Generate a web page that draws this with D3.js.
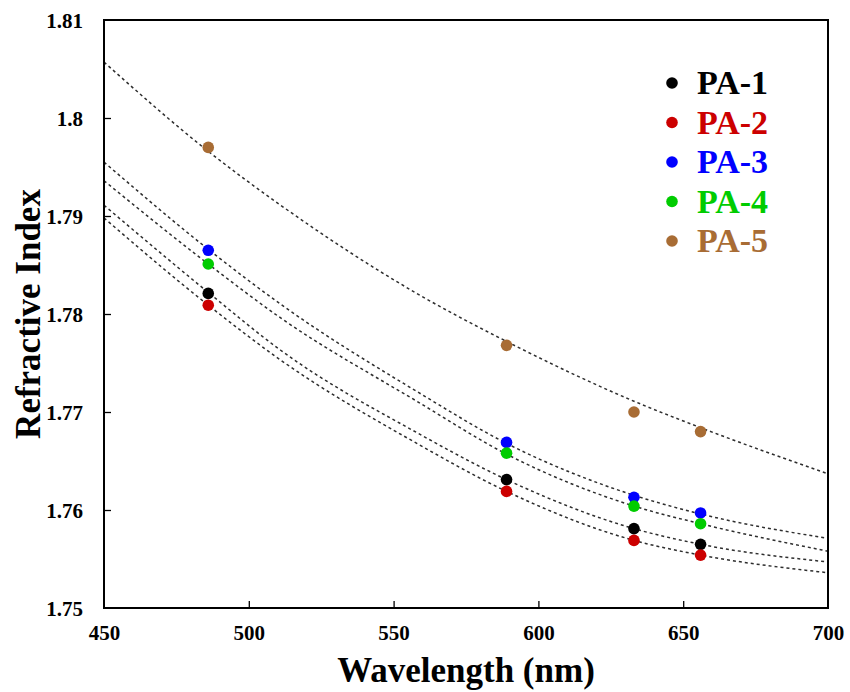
<!DOCTYPE html>
<html>
<head>
<meta charset="utf-8">
<script src="https://cdn.jsdelivr.net/npm/d3@7"></script>
<style>
  body { margin: 0; background: #fff; }
  text { font-family: "Liberation Serif", "Times New Roman", serif; font-weight: bold; }
</style>
</head>
<body>
<script>
// ---- data ----
const seriesNames = ["PA-1", "PA-2", "PA-3", "PA-4", "PA-5"];
const seriesColors = ["#000000", "#cc0000", "#0000ff", "#00cc00", "#a86c34"];

// measured points
const wavelengths = [486, 589, 633, 656];
const pa1 = [1.7821, 1.7631, 1.7581, 1.7565];
const pa2 = [1.7809, 1.7619, 1.7569, 1.7554];
const pa3 = [1.7865, 1.7669, 1.7613, 1.7597];
const pa4 = [1.7851, 1.7658, 1.7604, 1.7586];
const pa5 = [1.7970, 1.7768, 1.7700, 1.7680];

// dashed fit curves
const fitWl = [450, 486, 511, 558, 589, 633, 656, 700];
const fit1 = [1.7911, 1.7822, 1.7763, 1.7679, 1.7631, 1.7581, 1.7565, 1.7547];
const fit2 = [1.7898, 1.7809, 1.7753, 1.7668, 1.7619, 1.7569, 1.7554, 1.7536];
const fit3 = [1.7955, 1.7866, 1.7810, 1.7721, 1.7668, 1.7615, 1.7596, 1.7571];
const fit4 = [1.7936, 1.7851, 1.7796, 1.7711, 1.7657, 1.7604, 1.7586, 1.7558];
const fit5 = [1.8057, 1.7966, 1.7911, 1.7821, 1.7772, 1.7711, 1.7684, 1.7637];

const xTicks = [450, 500, 550, 600, 650, 700];
const yTicks = [1.75, 1.76, 1.77, 1.78, 1.79, 1.8, 1.81];

const points = [pa1, pa2, pa3, pa4, pa5];
const fits = [fit1, fit2, fit3, fit4, fit5];

// ---- layout ----
const W = 850, H = 692;
const x = d3.scaleLinear().domain([450, 700]).range([104, 828]);
const y = d3.scaleLinear().domain([1.75, 1.81]).range([608, 20]);

const svg = d3.select("body").append("svg")
    .attr("width", W)
    .attr("height", H);

svg.append("rect").attr("width", W).attr("height", H).attr("fill", "#fff");

// fit curves
const line = d3.line()
    .x(d => x(d[0]))
    .y(d => y(d[1]))
    .curve(d3.curveMonotoneX);

fits.forEach(f => {
    svg.append("path")
        .datum(fitWl.map((w, i) => [w, f[i]]))
        .attr("d", line)
        .attr("fill", "none")
        .attr("stroke", "#2e2e2e")
        .attr("stroke-width", 1.5)
        .attr("stroke-dasharray", "3,3");
});

// data points
points.forEach((p, s) => {
    svg.selectAll(null)
        .data(wavelengths.map((w, i) => [w, p[i]]))
        .join("circle")
        .attr("cx", d => x(d[0]))
        .attr("cy", d => y(d[1]))
        .attr("r", 5.8)
        .attr("fill", seriesColors[s]);
});

// axes (ticks pointing inward)
const xAxis = d3.axisBottom(x).tickValues(xTicks).tickSize(-7).tickPadding(17)
    .tickFormat(d3.format("d"));
const yAxis = d3.axisLeft(y).tickValues(yTicks).tickSize(-7).tickPadding(21)
    .tickFormat(d => d3.format("")(+d.toFixed(2)));

const gx = svg.append("g").attr("transform", `translate(0,${y(1.75)})`).call(xAxis);
const gy = svg.append("g").attr("transform", `translate(${x(450)},0)`).call(yAxis);

[gx, gy].forEach(g => {
    g.select(".domain").remove();
    g.selectAll(".tick line").attr("stroke", "#000").attr("stroke-width", 1.3);
    g.selectAll(".tick text")
        .attr("fill", "#000")
        .style("font-size", "21px")
        .style("font-family", "'Liberation Serif', serif")
        .style("font-weight", "bold");
});
gx.selectAll(".tick line").filter(d => d === 450 || d === 700).remove();
gy.selectAll(".tick line").filter(d => d === 1.75 || d === 1.81).remove();
gy.selectAll(".tick text").attr("dy", "0.35em");

// frame
svg.append("rect")
    .attr("x", x(450))
    .attr("y", y(1.81))
    .attr("width", x(700) - x(450))
    .attr("height", y(1.75) - y(1.81))
    .attr("fill", "none")
    .attr("stroke", "#000")
    .attr("stroke-width", 2);

// axis titles
svg.append("text")
    .attr("x", (x(450) + x(700)) / 2)
    .attr("y", 682)
    .attr("text-anchor", "middle")
    .style("font-size", "35px")
    .text("Wavelength (nm)");

svg.append("text")
    .attr("transform", `translate(40,${(y(1.75) + y(1.81)) / 2}) rotate(-90)`)
    .attr("text-anchor", "middle")
    .style("font-size", "35px")
    .text("Refractive Index");

// legend
const legend = svg.append("g");
seriesNames.forEach((name, i) => {
    const ly = 83 + i * 39.5;
    legend.append("circle")
        .attr("cx", 672)
        .attr("cy", ly)
        .attr("r", 5.8)
        .attr("fill", seriesColors[i]);
    legend.append("text")
        .attr("x", 697)
        .attr("y", ly + 11)
        .attr("fill", seriesColors[i])
        .style("font-size", "34px")
        .text(name);
});
</script>
</body>
</html>
